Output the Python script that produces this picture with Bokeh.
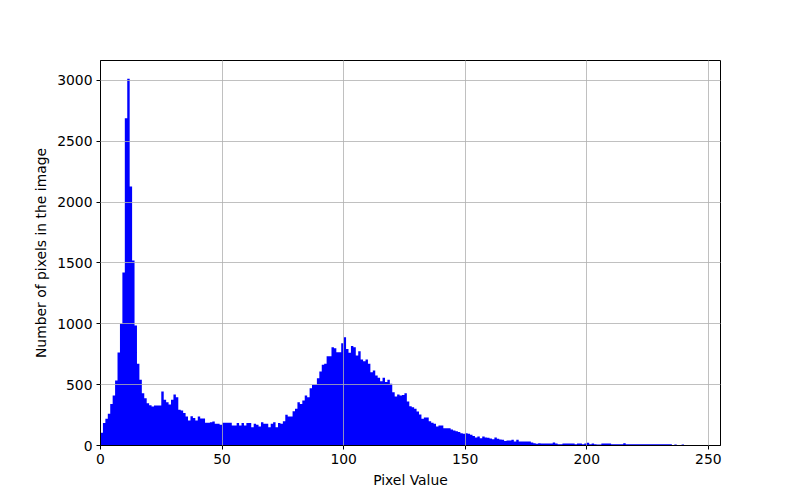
from bokeh.plotting import figure
from bokeh.models import Range1d, FixedTicker, ColumnDataSource
from bokeh.embed import file_html
from bokeh.resources import INLINE

# histogram counts per pixel value (bins 0..254)
counts = [
    105, 184, 220, 260, 342, 411, 534, 764, 1000, 1422,          # 0-9
    2690, 3013, 2129, 1521, 986, 671, 540, 430, 389, 348,        # 10-19
    330, 321, 329, 329, 329, 444, 375, 356, 337, 375,            # 20-29
    419, 397, 293, 288, 268, 238, 205, 241, 227, 205,            # 30-39
    238, 222, 222, 186, 186, 192, 197, 178, 178, 170,            # 40-49
    186, 186, 186, 186, 164, 164, 184, 164, 184, 164,            # 50-59
    184, 184, 151, 178, 170, 156, 192, 178, 178, 151,            # 60-69
    178, 192, 151, 184, 178, 200, 252, 238, 238, 282,            # 70-79
    301, 356, 342, 370, 411, 397, 471, 499, 499, 553,            # 80-89
    608, 663, 671, 734, 734, 808, 800, 767, 767, 841,            # 90-99
    890, 794, 762, 817, 808, 740, 775, 707, 693, 707,            # 100-109
    671, 603, 617, 575, 556, 529, 556, 521, 540, 507,            # 110-119
    438, 403, 419, 411, 416, 430, 362, 323, 315, 301,            # 120-129
    279, 255, 219, 230, 230, 200, 186, 178, 156, 164,            # 130-139
    164, 142, 142, 142, 131, 123, 118, 110, 101, 96,             # 140-149
    100, 96, 88, 79, 66, 74, 60, 74, 66, 63,                     # 150-159
    57, 52, 66, 55, 49, 47, 36, 41, 41, 47,                      # 160-169
    33, 47, 33, 33, 33, 33, 33, 25, 19, 14,                      # 170-179
    19, 16, 16, 16, 16, 16, 25, 16, 11, 11,                      # 180-189
    16, 16, 16, 16, 16, 11, 16, 16, 11, 16,                      # 190-199
    22, 11, 16, 11, 8, 8, 16, 16, 16, 16,                        # 200-209
    11, 11, 11, 11, 11, 19, 11, 11, 11, 11,                      # 210-219
    11, 11, 11, 11, 11, 11, 11, 11, 11, 11,                      # 220-229
    11, 11, 11, 11, 11, 0, 8, 0, 0, 8,                           # 230-239
    0, 0, 0, 0, 0, 0, 0, 0, 0, 0,                                # 240-249
    0, 0, 0, 0, 0,                                               # 250-254
]
bin_left = list(range(len(counts)))
# step outline: each bin's edge plus the closing right edge
step_x = bin_left + [len(counts)]
step_top = counts + [counts[-1]]

x_ticks = [0, 50, 100, 150, 200, 250]
y_ticks = [0, 500, 1000, 1500, 2000, 2500, 3000]
x_label = "Pixel Value"
y_label = "Number of pixels in the image"

FONT = "DejaVu Sans"
FS = "13.9px"

p = figure(width=800, height=500, output_backend="svg", toolbar_location=None,
           x_range=Range1d(0, 255), y_range=Range1d(0, 3164))
p.min_border_left = 100
p.min_border_right = 80
p.min_border_top = 60
p.min_border_bottom = 55
p.background_fill_color = "white"
p.border_fill_color = "white"
p.outline_line_color = "black"
p.outline_line_width = 1
p.outline_line_alpha = 1

src = ColumnDataSource(dict(x=step_x, y1=[0] * len(step_x), y2=step_top))
p.varea_step(x="x", y1="y1", y2="y2", source=src, step_mode="after",
             fill_color="blue")

p.xaxis.ticker = FixedTicker(ticks=x_ticks)
p.yaxis.ticker = FixedTicker(ticks=y_ticks)
for ax in (p.xaxis, p.yaxis):
    ax.major_tick_in = 0
    ax.major_tick_out = 4
    ax.minor_tick_line_color = None
    ax.axis_line_color = "black"
    ax.major_tick_line_color = "black"
    ax.major_label_text_font = FONT
    ax.major_label_text_font_size = FS
    ax.major_label_text_color = "black"
    ax.axis_label_text_font = FONT
    ax.axis_label_text_font_size = FS
    ax.axis_label_text_font_style = "normal"
    ax.axis_label_text_color = "black"
    ax.major_label_standoff = 4
p.xaxis.axis_label = x_label
p.yaxis.axis_label = y_label
p.xaxis.axis_label_standoff = 5
p.yaxis.axis_label_standoff = 5

p.grid.grid_line_color = "#b0b0b0"
p.grid.grid_line_width = 0.8
p.grid.level = "overlay"

open("out.html", "w").write(file_html(p, INLINE))
